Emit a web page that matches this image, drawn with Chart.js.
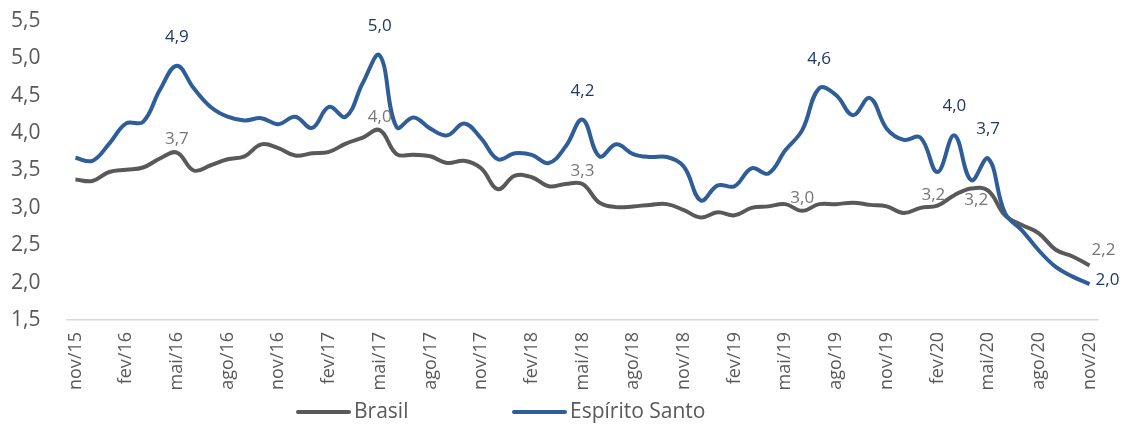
<!DOCTYPE html>
<html>
<head>
<meta charset="utf-8">
<script src="https://cdn.jsdelivr.net/npm/chart.js@4/dist/chart.umd.min.js"></script>
<style>
  html, body { margin: 0; padding: 0; background: #ffffff; }
  #wrap { width: 1124px; height: 426px; position: relative; }
</style>
</head>
<body>
<div id="wrap"><canvas id="c" width="1124" height="426"></canvas></div>
<script>
const months = [
  'nov/15','dez/15',
  'jan/16','fev/16','mar/16','abr/16','mai/16','jun/16','jul/16','ago/16','set/16','out/16','nov/16','dez/16',
  'jan/17','fev/17','mar/17','abr/17','mai/17','jun/17','jul/17','ago/17','set/17','out/17','nov/17','dez/17',
  'jan/18','fev/18','mar/18','abr/18','mai/18','jun/18','jul/18','ago/18','set/18','out/18','nov/18','dez/18',
  'jan/19','fev/19','mar/19','abr/19','mai/19','jun/19','jul/19','ago/19','set/19','out/19','nov/19','dez/19',
  'jan/20','fev/20','mar/20','abr/20','mai/20','jun/20','jul/20','ago/20','set/20','out/20','nov/20'
];

const brasil = [
  3.38, 3.36,
  3.48, 3.51, 3.54, 3.66, 3.74, 3.50, 3.57, 3.65, 3.69, 3.85, 3.80, 3.70,
  3.73, 3.75, 3.86, 3.94, 4.04, 3.72, 3.71, 3.69, 3.60, 3.63, 3.53, 3.25,
  3.43, 3.41, 3.29, 3.32, 3.32, 3.07, 3.01, 3.02, 3.04, 3.05, 2.97, 2.87,
  2.94, 2.90, 3.00, 3.02, 3.05, 2.96, 3.05, 3.05, 3.07, 3.04, 3.02, 2.93,
  3.00, 3.03, 3.17, 3.26, 3.23, 2.90, 2.77, 2.66, 2.44, 2.35, 2.23
];

const espiritoSanto = [
  3.67, 3.63,
  3.86, 4.13, 4.15, 4.58, 4.90, 4.60, 4.35, 4.22, 4.17, 4.20, 4.12, 4.22,
  4.07, 4.35, 4.22, 4.67, 5.04, 4.08, 4.21, 4.06, 3.97, 4.13, 3.93, 3.65,
  3.73, 3.71, 3.60, 3.82, 4.18, 3.69, 3.85, 3.72, 3.68, 3.68, 3.55, 3.10,
  3.30, 3.29, 3.53, 3.46, 3.77, 4.04, 4.60, 4.51, 4.24, 4.47, 4.06, 3.91,
  3.94, 3.48, 3.97, 3.37, 3.66, 2.93, 2.70, 2.43, 2.21, 2.08, 1.98
];

const yTicks = [1.5, 2.0, 2.5, 3.0, 3.5, 4.0, 4.5, 5.0, 5.5];

// Which points carry a value label, and where the label sits relative to its point
const brasilLabelled = [[6,'above'],[18,'above'],[30,'above'],[43,'above'],[52,'left'],[54,'belowLeft'],[60,'aboveRight']];
const esLabelled     = [[6,'aboveFar'],[18,'aboveFar'],[30,'aboveFar'],[44,'aboveFar'],[52,'aboveFar'],[54,'aboveFar'],[60,'right']];

const FONT = "'Open Sans', 'Noto Sans', 'DejaVu Sans', sans-serif";
const GRAY = '#595959';
const BLUE = '#2E5D98';

const fmt = v => v.toFixed(1).replace('.', ',');

const valueLabels = {
  id: 'valueLabels',
  afterDatasetsDraw(chart) {
    const ctx = chart.ctx;
    const sets = [
      { idx: 0, list: brasilLabelled, color: '#767676' },
      { idx: 1, list: esLabelled, color: '#1F3864' }
    ];
    ctx.save();
    ctx.font = '17px ' + FONT;
    for (const s of sets) {
      const meta = chart.getDatasetMeta(s.idx);
      const data = chart.data.datasets[s.idx].data;
      ctx.fillStyle = s.color;
      for (const [i, pos] of s.list) {
        const p = meta.data[i];
        const txt = fmt(data[i]);
        let x = p.x, y = p.y;
        ctx.textBaseline = 'middle';
        ctx.textAlign = 'center';
        if (pos === 'above') { y -= 13; }
        else if (pos === 'aboveFar') { y -= 29; }
        else if (pos === 'left') { ctx.textAlign = 'right'; x -= 9; }
        else if (pos === 'belowLeft') { ctx.textAlign = 'right'; y += 9; }
        else if (pos === 'aboveRight') { ctx.textAlign = 'left'; x += 2; y -= 15; }
        else if (pos === 'right') { ctx.textAlign = 'left'; x += 6; y -= 4; }
        ctx.fillText(txt, x, y);
      }
    }
    ctx.restore();
  }
};

const bottomLegend = {
  id: 'bottomLegend',
  afterDraw(chart) {
    const ctx = chart.ctx;
    const items = [
      { text: 'Brasil', color: GRAY, x: 296 },
      { text: 'Espírito Santo', color: BLUE, x: 512 }
    ];
    const y = 412;
    ctx.save();
    ctx.font = '21px ' + FONT;
    ctx.textBaseline = 'middle';
    ctx.textAlign = 'left';
    for (const it of items) {
      ctx.strokeStyle = it.color;
      ctx.lineWidth = 4;
      ctx.lineCap = 'round';
      ctx.beginPath();
      ctx.moveTo(it.x + 2, y);
      ctx.lineTo(it.x + 53, y);
      ctx.stroke();
      ctx.fillStyle = GRAY;
      ctx.fillText(it.text, it.x + 58, y);
    }
    ctx.restore();
  }
};

new Chart(document.getElementById('c'), {
  type: 'line',
  data: {
    labels: months,
    datasets: [
      {
        label: 'Brasil',
        data: brasil,
        borderColor: GRAY,
        backgroundColor: GRAY,
        borderWidth: 4,
        pointRadius: 0,
        tension: 0.4,
        order: 1
      },
      {
        label: 'Espírito Santo',
        data: espiritoSanto,
        borderColor: BLUE,
        backgroundColor: BLUE,
        borderWidth: 4,
        pointRadius: 0,
        tension: 0.4,
        order: 0
      }
    ]
  },
  options: {
    responsive: false,
    animation: false,
    devicePixelRatio: 1,
    layout: { padding: { top: 21, right: 26, bottom: 30, left: 11 } },
    plugins: {
      legend: { display: false },
      tooltip: { enabled: false }
    },
    scales: {
      x: {
        offset: true,
        grid: { display: false, drawTicks: false },
        border: { display: true, color: '#D9D9D9', width: 1.5 },
        ticks: {
          autoSkip: false,
          minRotation: 90,
          maxRotation: 90,
          padding: 12,
          color: GRAY,
          font: { family: FONT, size: 18 },
          callback: function (val, idx) { return idx % 3 === 0 ? months[idx] : ''; }
        },
        afterFit(scale) { scale.height = 76; }
      },
      y: {
        min: yTicks[0],
        max: yTicks[yTicks.length - 1],
        grid: { display: false, drawTicks: false },
        border: { display: false },
        afterBuildTicks(scale) { scale.ticks = yTicks.map(v => ({ value: v })); },
        ticks: {
          padding: 0,
          crossAlign: 'far',
          color: GRAY,
          font: { family: FONT, size: 21 },
          callback: v => fmt(v)
        },
        afterFit(scale) { scale.width = 56; }
      }
    }
  },
  plugins: [valueLabels, bottomLegend]
});
</script>
</body>
</html>
